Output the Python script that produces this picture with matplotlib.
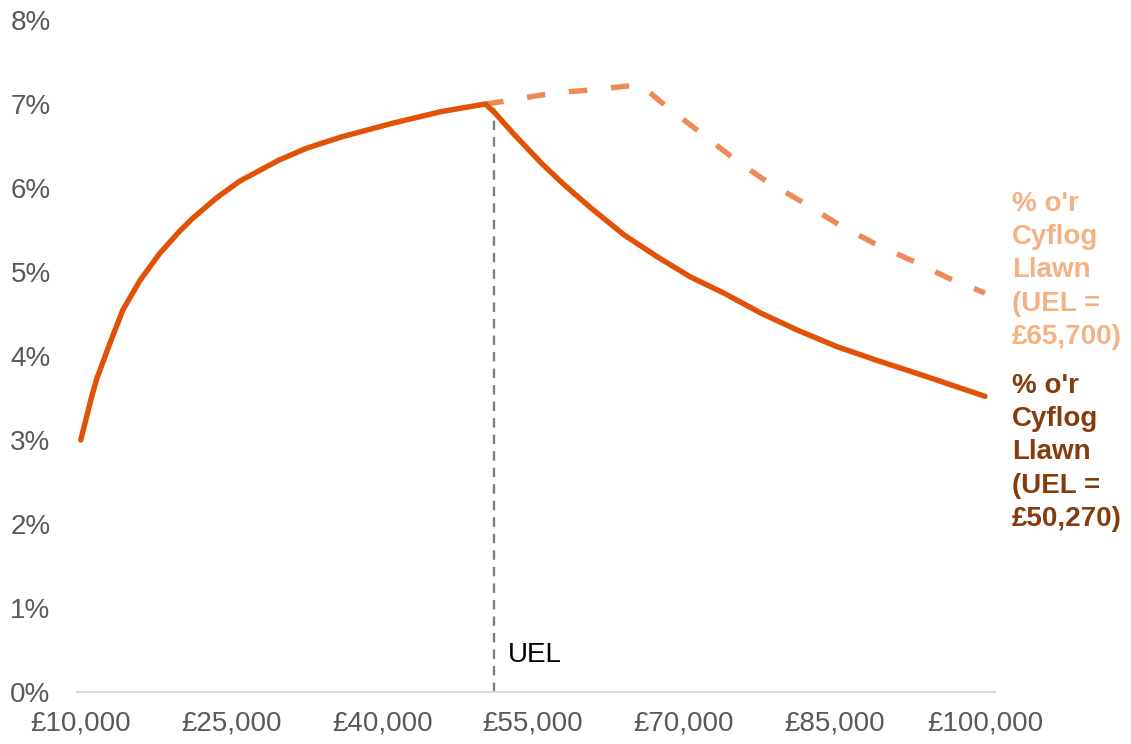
import matplotlib
matplotlib.use("Agg")
from matplotlib import pyplot as plt
from matplotlib.ticker import FuncFormatter

plt.rcParams['font.family'] = ['Liberation Sans', 'DejaVu Sans']

# Solid line: % of gross salary with UEL = £50,270
income_now = [10000, 11100, 11600, 12900, 14200, 15900, 17850, 19800, 21150, 23500,
              25800, 29700, 32400, 36000, 41000, 45900, 50270, 51100, 53200, 55900,
              58100, 60800, 64100, 67400, 70700, 74000, 77700, 81300, 85300, 89200,
              93800, 100000]
pct_now = [3.0, 3.52, 3.73, 4.15, 4.55, 4.9, 5.22, 5.48, 5.64, 5.88,
           6.08, 6.33, 6.47, 6.61, 6.77, 6.91, 7.0, 6.91, 6.63, 6.29,
           6.04, 5.76, 5.44, 5.18, 4.94, 4.75, 4.51, 4.31, 4.11, 3.95,
           3.77, 3.52]

# Dashed line: % of gross salary with UEL = £65,700
income_alt = [50270, 52000, 57000, 61000, 65700, 68500, 72000, 75000, 78000, 82000,
              85500, 89000, 93000, 96500, 100000]
pct_alt = [7.0, 7.03, 7.13, 7.17, 7.23, 6.95, 6.63, 6.35, 6.1, 5.82,
           5.56, 5.34, 5.12, 4.92, 4.75]

uel_x = 51100
x_ticks = [10000, 25000, 40000, 55000, 70000, 85000, 100000]
y_ticks = [0, 1, 2, 3, 4, 5, 6, 7, 8]

label_alt = "% o'r\nCyflog\nLlawn\n(UEL =\n£65,700)"
label_now = "% o'r\nCyflog\nLlawn\n(UEL =\n£50,270)"

fig = plt.figure(figsize=(11.31, 7.44), dpi=100)
ax = fig.add_axes([77 / 1131, 52 / 744, 918 / 1131, 672 / 744])

ax.plot(income_alt, pct_alt, color='#ED8B56', linewidth=3.9, linestyle=(0, (3.4, 4.4)),
        dash_capstyle='butt')
ax.plot(income_now, pct_now, color='#E05206', linewidth=3.9, solid_capstyle='round',
        solid_joinstyle='round')
ax.axvline(uel_x, ymin=0, ymax=6.95 / 8, color='#7F7F7F', linewidth=1.7,
           linestyle=(0, (4, 3)), zorder=1)
ax.text(uel_x + 1400, 0.44, 'UEL', fontsize=20, color='black', va='center', ha='left')

ax.set_xlim(9630, 101000)
ax.set_ylim(0, 8)
ax.set_xticks(x_ticks)
ax.set_yticks(y_ticks)
ax.xaxis.set_major_formatter(FuncFormatter(lambda v, p: '£{:,.0f}'.format(v)))
ax.yaxis.set_major_formatter(FuncFormatter(lambda v, p: '{:.0f}%'.format(v)))
ax.tick_params(axis='both', length=0, labelsize=20, labelcolor='#595959')
ax.tick_params(axis='x', pad=13)
ax.tick_params(axis='y', pad=19)

for side in ['top', 'right', 'left']:
    ax.spines[side].set_visible(False)
ax.spines['bottom'].set_color('#D9D9D9')
ax.spines['bottom'].set_linewidth(1.5)

fig.text(1012 / 1131, 1 - 191 / 744, label_alt, fontsize=20, fontweight='bold',
         color='#F4B183', va='top', ha='left', linespacing=1.36)
fig.text(1012 / 1131, 1 - 373 / 744, label_now, fontsize=20, fontweight='bold',
         color='#843C0C', va='top', ha='left', linespacing=1.36)

fig.savefig('out.png', dpi=100)
